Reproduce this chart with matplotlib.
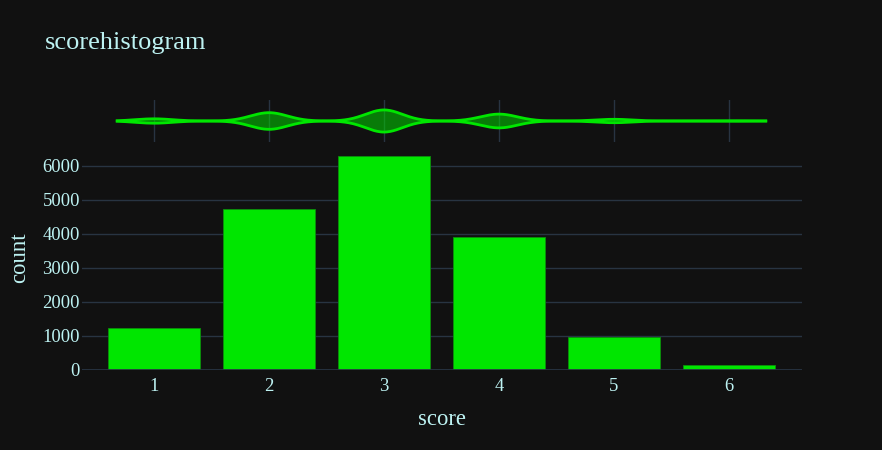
import numpy as np
import matplotlib
matplotlib.use("Agg")
import matplotlib.pyplot as plt

# data
scores = [1, 2, 3, 4, 5, 6]
counts = [1245, 4725, 6275, 3910, 970, 155]
bandwidth = 0.16

bg       = "#111111"
grid_col = "#283442"
green    = "#00e600"
text_col = "#bdf2f2"

plt.rcParams["font.family"] = ["Liberation Serif", "DejaVu Serif"]

fig = plt.figure(figsize=(8.82, 4.5), dpi=100, facecolor=bg)
W, H = 882, 450
ax  = fig.add_axes([82 / W, (H - 370) / H, 720 / W, 225 / H])
axm = fig.add_axes([82 / W, (H - 142) / H, 720 / W, 42 / H], sharex=ax)

for a in (ax, axm):
    a.set_facecolor(bg)
    for s in a.spines.values():
        s.set_visible(False)

# histogram bars
ax.bar(scores, counts, width=0.8, color=green, edgecolor="#0c8f0c", linewidth=0.6, zorder=3)
ax.set_xlim(0.374, 6.635)
ax.set_ylim(0, 6610)
ax.set_yticks([0, 1000, 2000, 3000, 4000, 5000, 6000])
ax.set_xticks(scores)
ax.grid(axis="y", color=grid_col, linewidth=1, zorder=0)
ax.axhline(0, color=grid_col, linewidth=2, zorder=4)
ax.tick_params(axis="both", length=0, colors=text_col, labelsize=13.4)
ax.tick_params(axis="y", pad=1.5)
ax.tick_params(axis="x", pad=6)
ax.set_xlabel("score", color=text_col, fontsize=16.3, labelpad=10)
ax.set_ylabel("count", color=text_col, fontsize=16.3, labelpad=9)

# violin marginal (gaussian kde of the binned counts)
xs = np.linspace(scores[0] - 2 * bandwidth, scores[-1] + 2 * bandwidth, 600)
dens = np.zeros_like(xs)
for s, c in zip(scores, counts):
    dens += c * np.exp(-0.5 * ((xs - s) / bandwidth) ** 2)
half = dens / dens.max()
axm.fill_between(xs, -half, half, color=green, alpha=0.5, linewidth=0, zorder=3)
axm.plot(xs, half, color=green, linewidth=2, zorder=4)
axm.plot(xs, -half, color=green, linewidth=2, zorder=4)
axm.set_ylim(-1.9, 1.9)
axm.grid(axis="x", color=grid_col, linewidth=1, zorder=0)
axm.tick_params(axis="both", length=0, labelbottom=False, labelleft=False)
axm.set_yticks([])

fig.text(45 / W, (H - 49) / H, "scorehistogram", color=text_col, fontsize=19,
         ha="left", va="baseline")

fig.savefig("out.png", dpi=100, facecolor=bg)
